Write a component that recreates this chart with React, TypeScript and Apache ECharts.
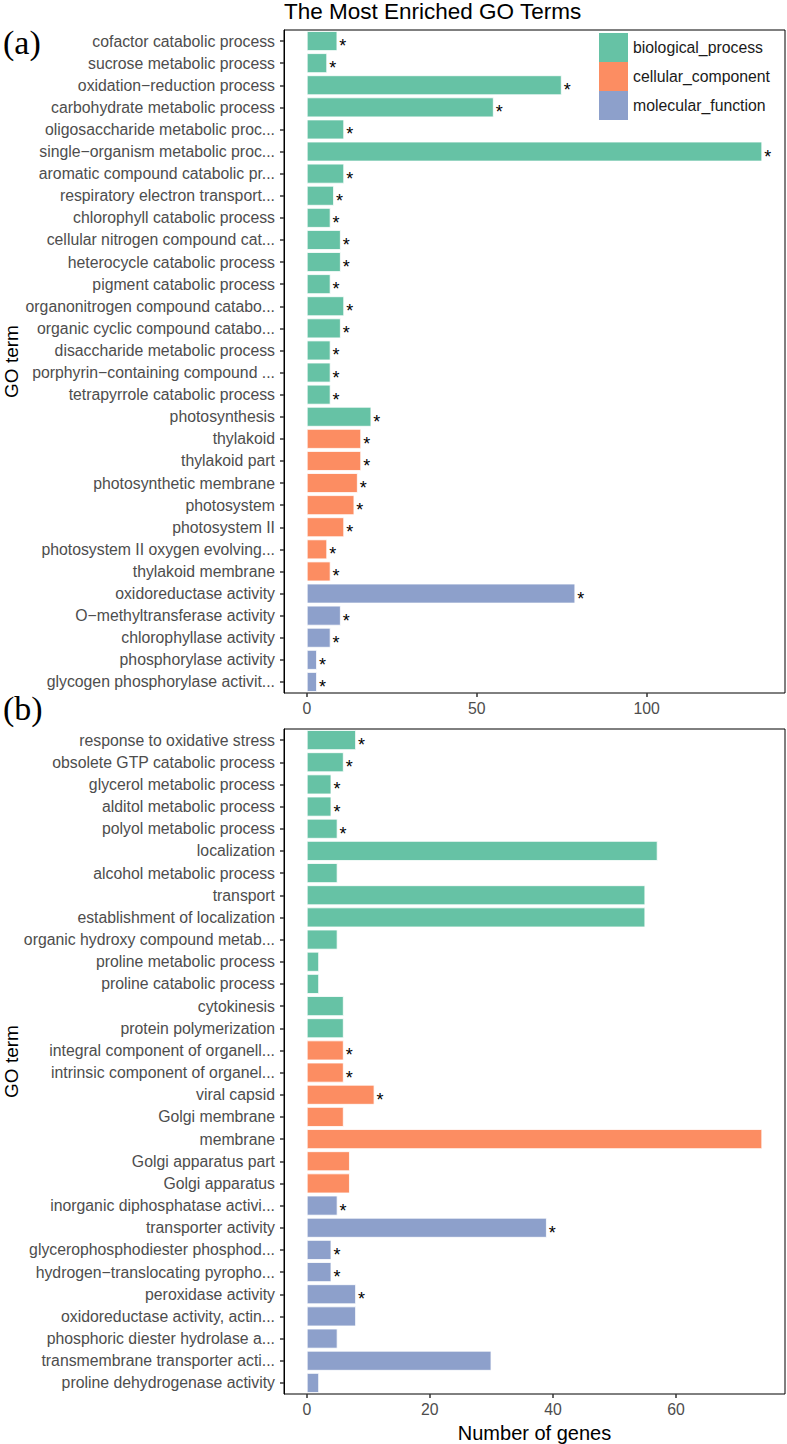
import React, { useEffect, useRef } from "react";
import * as echarts from "echarts";

const groupNames = ["biological_process", "cellular_component", "molecular_function"];
const groupColors = ["#66C2A5", "#FC8D62", "#8DA0CB"];

const catsA = [
  "cofactor catabolic process",
  "sucrose metabolic process",
  "oxidation\u2212reduction process",
  "carbohydrate metabolic process",
  "oligosaccharide metabolic proc...",
  "single\u2212organism metabolic proc...",
  "aromatic compound catabolic pr...",
  "respiratory electron transport...",
  "chlorophyll catabolic process",
  "cellular nitrogen compound cat...",
  "heterocycle catabolic process",
  "pigment catabolic process",
  "organonitrogen compound catabo...",
  "organic cyclic compound catabo...",
  "disaccharide metabolic process",
  "porphyrin\u2212containing compound ...",
  "tetrapyrrole catabolic process",
  "photosynthesis",
  "thylakoid",
  "thylakoid part",
  "photosynthetic membrane",
  "photosystem",
  "photosystem II",
  "photosystem II oxygen evolving...",
  "thylakoid membrane",
  "oxidoreductase activity",
  "O\u2212methyltransferase activity",
  "chlorophyllase activity",
  "phosphorylase activity",
  "glycogen phosphorylase activit...",
];
const valsA = [9, 6, 75, 55, 11, 134, 11, 8, 7, 10, 10, 7, 11, 10, 7, 7, 7, 19, 16, 16, 15, 14, 11, 6, 7, 79, 10, 7, 3, 3];
const groupA = [0, 0, 0, 0, 0, 0, 0, 0, 0, 0, 0, 0, 0, 0, 0, 0, 0, 0, 1, 1, 1, 1, 1, 1, 1, 2, 2, 2, 2, 2];
const starA = [1, 1, 1, 1, 1, 1, 1, 1, 1, 1, 1, 1, 1, 1, 1, 1, 1, 1, 1, 1, 1, 1, 1, 1, 1, 1, 1, 1, 1, 1];

const catsB = [
  "response to oxidative stress",
  "obsolete GTP catabolic process",
  "glycerol metabolic process",
  "alditol metabolic process",
  "polyol metabolic process",
  "localization",
  "alcohol metabolic process",
  "transport",
  "establishment of localization",
  "organic hydroxy compound metab...",
  "proline metabolic process",
  "proline catabolic process",
  "cytokinesis",
  "protein polymerization",
  "integral component of organell...",
  "intrinsic component of organel...",
  "viral capsid",
  "Golgi membrane",
  "membrane",
  "Golgi apparatus part",
  "Golgi apparatus",
  "inorganic diphosphatase activi...",
  "transporter activity",
  "glycerophosphodiester phosphod...",
  "hydrogen\u2212translocating pyropho...",
  "peroxidase activity",
  "oxidoreductase activity, actin...",
  "phosphoric diester hydrolase a...",
  "transmembrane transporter acti...",
  "proline dehydrogenase activity",
];
const valsB = [8, 6, 4, 4, 5, 57, 5, 55, 55, 5, 2, 2, 6, 6, 6, 6, 11, 6, 74, 7, 7, 5, 39, 4, 4, 8, 8, 5, 30, 2];
const groupB = [0, 0, 0, 0, 0, 0, 0, 0, 0, 0, 0, 0, 0, 0, 1, 1, 1, 1, 1, 1, 1, 2, 2, 2, 2, 2, 2, 2, 2, 2];
const starB = [1, 1, 1, 1, 1, 0, 0, 0, 0, 0, 0, 0, 0, 0, 1, 1, 1, 0, 0, 0, 0, 1, 1, 1, 1, 1, 0, 0, 0, 0];

const ticksA = [0, 50, 100];
const ticksB = [0, 20, 40, 60];

const FONT = "'Liberation Sans', Arial, sans-serif";

function buildSeries(panel: number, vals: number[], groups: number[], stars: number[]) {
  const main = {
    type: "bar",
    name: "panel" + panel,
    xAxisIndex: panel,
    yAxisIndex: panel,
    stack: "s" + panel,
    barCategoryGap: "10%",
    z: 5,
    data: vals.map((v, i) => ({ value: v, itemStyle: { color: groupColors[groups[i]] } })),
    itemStyle: { borderColor: "#ffffff", borderWidth: 0.8 },
    label: {
      show: true,
      position: "right",
      distance: 2,
      offset: [0, 5],
      color: "#000",
      fontSize: 18,
      fontFamily: FONT,
      formatter: (p: any) => (stars[p.dataIndex] ? "*" : ""),
    },
  };
  return [main];
}

const legendSeries = groupNames.map((name, g) => ({
  type: "bar",
  name,
  xAxisIndex: 0,
  yAxisIndex: 0,
  stack: "s0",
  data: [],
  itemStyle: { color: groupColors[g] },
}));

function xAxisCfg(grid: number, min: number, max: number, ticks: number[], name: string) {
  return {
    type: "value",
    gridIndex: grid,
    min,
    max,
    name,
    nameLocation: "middle",
    nameGap: 29,
    nameMoveOverlap: false,
    nameTextStyle: { fontSize: 20, color: "#000", fontFamily: FONT },
    axisLine: { show: false, onZero: false },
    axisTick: { show: true, length: 4, customValues: ticks, lineStyle: { color: "#333", width: 1.5 } },
    axisLabel: { customValues: ticks, color: "#4d4d4d", fontSize: 15.8, margin: 7, fontFamily: FONT },
    splitLine: { show: false },
    axisPointer: { show: false },
  };
}

function yAxisCfg(grid: number, cats: string[]) {
  return {
    type: "category",
    gridIndex: grid,
    data: cats,
    inverse: true,
    position: "left",
    name: "GO term",
    nameLocation: "middle",
    nameRotate: 90,
    nameGap: 263,
    nameMoveOverlap: false,
    nameTextStyle: { fontSize: 19, color: "#000", fontFamily: FONT },
    axisLine: { show: true, onZero: false, lineStyle: { color: "#000", width: 1 } },
    axisTick: { show: true, alignWithLabel: true, length: 4, lineStyle: { color: "#333", width: 1.5 } },
    axisLabel: { color: "#4d4d4d", fontSize: 15.8, margin: 9, fontFamily: FONT, interval: 0 },
    splitLine: { show: false },
  };
}

export default function App() {
  const ref = useRef<HTMLDivElement>(null);
  useEffect(() => {
    if (!ref.current) return;
    const chart = echarts.init(ref.current, undefined, { renderer: "svg" });
    chart.setOption({
      animation: false,
      backgroundColor: "#ffffff",
      textStyle: { fontFamily: FONT },
      title: {
        text: "The Most Enriched GO Terms",
        left: 284,
        top: 0,
        padding: 0,
        textStyle: { fontSize: 22.5, fontWeight: "normal", color: "#000", fontFamily: FONT },
      },
      legend: {
        data: groupNames,
        orient: "vertical",
        left: 599,
        top: 33,
        padding: 0,
        itemWidth: 29,
        itemHeight: 29,
        itemGap: 0,
        icon: "rect",
        selectedMode: false,
        itemStyle: { borderWidth: 0 },
        textStyle: { fontSize: 15.8, color: "#1a1a1a", fontFamily: FONT, lineHeight: 20 },
      },
      grid: [
        { left: 284, top: 30, width: 501, height: 663, show: true, borderColor: "#000", borderWidth: 1, containLabel: false, outerBoundsMode: "none" },
        { left: 284, top: 729, width: 501, height: 665, show: true, borderColor: "#000", borderWidth: 1, containLabel: false, outerBoundsMode: "none" },
      ],
      xAxis: [xAxisCfg(0, -6.7, 140.7, ticksA, ""), xAxisCfg(1, -3.7, 77.7, ticksB, "Number of genes")],
      yAxis: [yAxisCfg(0, catsA), yAxisCfg(1, catsB)],
      graphic: [
        { type: "text", left: 3, top: 25, style: { text: "(a)", fontSize: 34, fontFamily: "'Liberation Serif', 'Times New Roman', serif", fill: "#000" } },
        { type: "text", left: 3, top: 691, style: { text: "(b)", fontSize: 34, fontFamily: "'Liberation Serif', 'Times New Roman', serif", fill: "#000" } },
      ],
      series: [...buildSeries(0, valsA, groupA, starA), ...buildSeries(1, valsB, groupB, starB), ...legendSeries],
    });
    return () => chart.dispose();
  }, []);
  return <div ref={ref} style={{ position: "absolute", left: 0, top: 0, width: 787, height: 1444 }} />;
}
